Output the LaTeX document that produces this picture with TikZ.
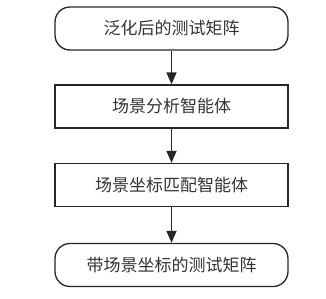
\documentclass[tikz,border=0pt]{standalone}
\usepackage{fontspec}
\newfontfamily\cjk{Noto Sans CJK SC}
\usetikzlibrary{arrows.meta}
\begin{document}
\begin{tikzpicture}[x=1pt,y=-1pt,
  box/.style={draw=black!85,line width=1.3pt,minimum width=233pt,minimum height=43pt,inner sep=0pt,font=\cjk\fontsize{17}{17}\selectfont,text=black!80},
  rbox/.style={box,rounded corners=15pt},
  arr/.style={draw=black!85,line width=1.3pt,-{Triangle[length=12pt,width=10pt]}}]
\useasboundingbox (0,0) rectangle (326,298);
\node[rbox] (a) at (171.5,28.5) {泛化后的测试矩阵};
\node[box] (b) at (171.5,106.5) {场景分析智能体};
\node[box] (c) at (171.5,185) {场景坐标匹配智能体};
\node[rbox] (d) at (171.5,265) {带场景坐标的测试矩阵};
\draw[arr] (a) -- (b);
\draw[arr] (b) -- (c);
\draw[arr] (c) -- (d);
\end{tikzpicture}
\end{document}
